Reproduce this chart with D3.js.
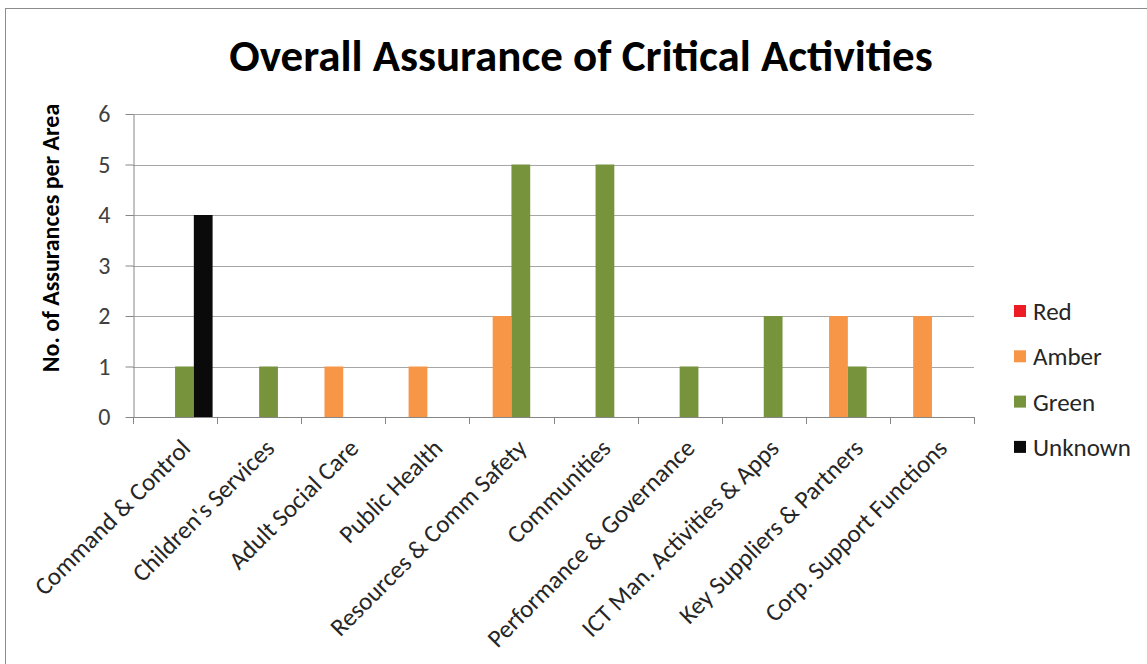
<!DOCTYPE html>
<html>
<head>
<meta charset="utf-8">
<script src="https://cdn.jsdelivr.net/npm/d3@7"></script>
<style>
  body { margin: 0; background: #fff; }
  text { font-family: Carlito, Calibri, Lato, sans-serif; }
</style>
</head>
<body>
<div class="chart"></div>
<script>
// data
const categories = ["Command & Control", "Children's Services", "Adult Social Care", "Public Health",
    "Resources & Comm Safety", "Communities", "Performance & Governance",
    "ICT Man. Activities & Apps", "Key Suppliers & Partners", "Corp. Support Functions"];
const seriesNames = ["Red", "Amber", "Green", "Unknown"];
const redValues     = [0, 0, 0, 0, 0, 0, 0, 0, 0, 0];
const amberValues   = [0, 0, 1, 1, 2, 0, 0, 0, 2, 2];
const greenValues   = [1, 1, 0, 0, 5, 5, 1, 2, 1, 0];
const unknownValues = [4, 0, 0, 0, 0, 0, 0, 0, 0, 0];
const yTicks = [0, 1, 2, 3, 4, 5, 6];
const seriesColors = ["#ED1C24", "#F79646", "#77933C", "#0A0A0A"];

const width = 1147, height = 664;
const plot = {left: 133, right: 974, top: 114, bottom: 417};

const valuesBySeries = [redValues, amberValues, greenValues, unknownValues];
const rows = [];
categories.forEach(function(c, i) {
    seriesNames.forEach(function(s, j) {
        rows.push({cat: c, key: s, value: valuesBySeries[j][i]});
    });
});

const svg = d3.select(".chart").append("svg")
    .attr("width", width)
    .attr("height", height);

// chart border
svg.append("rect")
    .attr("x", 5.5).attr("y", 8.5)
    .attr("width", width + 20).attr("height", height + 20)
    .attr("fill", "none")
    .attr("stroke", "#8c8c8c");

const x = d3.scaleBand()
    .domain(categories)
    .range([plot.left, plot.right]);
const xSub = d3.scaleBand()
    .domain(seriesNames)
    .range([0, x.bandwidth()])
    .paddingOuter(0.24);
const y = d3.scaleLinear()
    .domain([0, 6])
    .range([plot.bottom, plot.top]);
const color = d3.scaleOrdinal()
    .domain(seriesNames)
    .range(seriesColors);

// gridlines
svg.append("g")
    .selectAll("line")
    .data(yTicks.filter(d => d > 0))
    .enter()
    .append("line")
    .attr("x1", plot.left).attr("x2", plot.right)
    .attr("y1", d => Math.round(y(d)) + 0.5)
    .attr("y2", d => Math.round(y(d)) + 0.5)
    .attr("stroke", "#a6a6a6");

// y axis
const yAxis = svg.append("g")
    .attr("transform", "translate(" + (plot.left + 0.5) + ",0)")
    .call(d3.axisLeft(y).tickValues(yTicks).tickFormat(d3.format("d"))
        .tickSize(8).tickSizeOuter(0).tickPadding(15));
yAxis.select(".domain").attr("stroke", "#868686");
yAxis.selectAll(".tick line").attr("stroke", "#868686");
yAxis.selectAll(".tick text")
    .attr("fill", "#404040")
    .style("font-size", "24px")
    .style("font-family", "Carlito, Calibri, Lato, sans-serif");

// bars
svg.append("g")
    .selectAll("rect")
    .data(rows.filter(d => d.value > 0))
    .enter()
    .append("rect")
    .attr("x", d => x(d.cat) + xSub(d.key))
    .attr("y", d => y(d.value))
    .attr("width", xSub.bandwidth())
    .attr("height", d => y(0) - y(d.value))
    .attr("fill", d => color(d.key));

// x axis line and ticks at band edges
svg.append("line")
    .attr("x1", plot.left).attr("x2", plot.right)
    .attr("y1", plot.bottom + 0.5).attr("y2", plot.bottom + 0.5)
    .attr("stroke", "#868686");
const edges = categories.map(c => x(c)).concat([x.range()[1]]);
svg.append("g")
    .selectAll("line")
    .data(edges)
    .enter()
    .append("line")
    .attr("x1", d => Math.round(d) + 0.5).attr("x2", d => Math.round(d) + 0.5)
    .attr("y1", plot.bottom).attr("y2", plot.bottom + 7)
    .attr("stroke", "#868686");

// category labels, rotated
svg.append("g")
    .selectAll("text")
    .data(categories)
    .enter()
    .append("text")
    .attr("transform", d => "translate(" + (x(d) + x.bandwidth() / 2 + 4) + "," + 437 + ") rotate(-45)")
    .attr("text-anchor", "end")
    .attr("dy", "0.72em")
    .attr("fill", "#262626")
    .style("font-size", "25px")
    .text(d => d);

// title
svg.append("text")
    .attr("x", 581).attr("y", 71)
    .attr("text-anchor", "middle")
    .attr("fill", "#000")
    .style("font-size", "45px")
    .style("font-weight", "bold")
    .text("Overall Assurance of Critical Activities");

// y axis title
svg.append("text")
    .attr("transform", "translate(59,238) rotate(-90)")
    .attr("text-anchor", "middle")
    .attr("fill", "#000")
    .style("font-size", "24px")
    .style("font-weight", "bold")
    .text("No. of Assurances per Area");

// legend
const legend = svg.append("g")
    .selectAll("g")
    .data(seriesNames)
    .enter()
    .append("g")
    .attr("transform", (d, i) => "translate(1014," + (311 + i * 45.3) + ")");
legend.append("rect")
    .attr("x", 0).attr("y", -6)
    .attr("width", 12).attr("height", 12)
    .attr("fill", d => color(d));
legend.append("text")
    .attr("x", 19)
    .attr("dy", "0.36em")
    .attr("fill", "#262626")
    .style("font-size", "25px")
    .text(d => d);
</script>
</body>
</html>
